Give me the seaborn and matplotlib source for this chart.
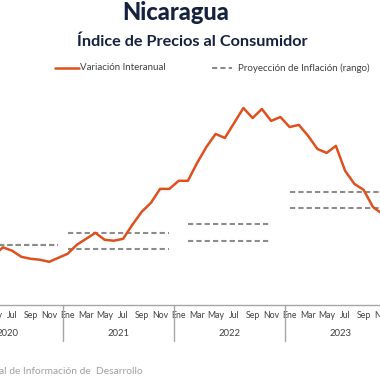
import matplotlib as mpl
import matplotlib.pyplot as plt
import matplotlib.transforms as mtransforms
from matplotlib.lines import Line2D
import pandas as pd
import seaborn as sns

mpl.use('Agg')

# month index: 0 = Ene 2020 ... 47 = Dic 2023
mes_idx = list(range(4, 47))
variacion = [3.06, 3.58, 3.37, 2.99, 2.87, 2.81, 2.68, 2.93,
             3.18, 3.74, 4.11, 4.48, 4.05, 3.99, 4.11, 4.98, 5.78, 6.34, 7.21, 7.21,
             7.71, 7.71, 8.82, 9.81, 10.62, 10.37, 11.30, 12.23, 11.61, 12.17, 11.43, 11.67,
             11.05, 11.18, 10.50, 9.69, 9.44, 9.88, 8.33, 7.52, 7.15, 6.09, 5.66]

# projection range per year (first/last month index, low/high value)
proy_inicio = [0, 12, 25, 36]
proy_fin = [11, 23, 34, 47]
proy_min = [3.75, 3.5, 4.0, 6.0]
proy_max = [3.75, 4.5, 5.0, 7.0]

meses = ['Ene', 'Mar', 'May', 'Jul', 'Sep', 'Nov']
anios = ['2020', '2021', '2022', '2023']

naranja = '#E0501E'
gris = '#8C8C8C'
azul = '#16213E'
texto = '#404040'

sns.set_style('white')
plt.rcParams['font.family'] = ['Lato', 'DejaVu Sans']

df = pd.DataFrame({'mes': mes_idx, 'var': variacion})

fig = plt.figure(figsize=(3.8, 3.8), dpi=100)
# axes is wider than the figure: the original chart is cropped on both sides
ax = fig.add_axes([-48 / 380, 75 / 380, 444 / 380, 225.5 / 380])

for s, e, lo, hi in zip(proy_inicio, proy_fin, proy_min, proy_max):
    ax.hlines([lo, hi], s, e, colors=gris, linestyles=(0, (2.5, 1.5)), lw=1.5)

sns.lineplot(x='mes', y='var', data=df, color=naranja, linewidth=1.8, ax=ax)

ax.set_xlim(-0.5, 47.5)
ax.set_ylim(0, 14)
ax.set_xlabel('')
ax.set_ylabel('')
ax.set_yticks([])
ax.set_xticks(range(0, 48, 2))
ax.set_xticklabels(meses * len(anios))
ax.tick_params(axis='x', length=0, pad=4.5, labelsize=6.3, labelcolor=texto)
for side in ['top', 'left', 'right']:
    ax.spines[side].set_visible(False)
ax.spines['bottom'].set_color('#A6A6A6')
ax.spines['bottom'].set_linewidth(1)

trans = mtransforms.blended_transform_factory(ax.transData, ax.transAxes)
for i, a in enumerate(anios):
    ax.text(12 * i + 5.5, -28 / 225.5, a, transform=trans, ha='center', va='center',
            fontsize=6.8, color=texto)
for b in [-0.5, 11.5, 23.5, 35.5, 47.5]:
    ax.plot([b, b], [0, -36 / 225.5], transform=trans, clip_on=False,
            color='#A6A6A6', lw=1)

# titles
fig.text(176 / 380, 1 - 13 / 380, 'Nicaragua', ha='center', va='center',
         fontsize=17, fontweight='black', color=azul)
fig.text(192.5 / 380, 1 - 42 / 380, 'Índice de Precios al Consumidor', ha='center',
         va='center', fontsize=11.7, fontweight='bold', color=azul)

# legend
ly = 1 - 68 / 380
fig.add_artist(Line2D([55 / 380, 79 / 380], [ly, ly], color=naranja, lw=1.8))
fig.text(80 / 380, ly, 'Variación Interanual', va='center', fontsize=7, color=texto)
fig.add_artist(Line2D([212 / 380, 232 / 380], [ly, ly], color=gris, lw=1.5,
                      linestyle=(0, (2.5, 1.5))))
fig.text(238 / 380, ly, 'Proyección de Inflación (rango)', va='center', fontsize=7,
         color=texto)

# source (cut by the crop)
fig.text(-1 / 380, 1 - 372 / 380, 'al de Información de  Desarrollo', va='center',
         fontsize=7.4, color='#A0A0A0')

fig.savefig('out.png', dpi=100)
